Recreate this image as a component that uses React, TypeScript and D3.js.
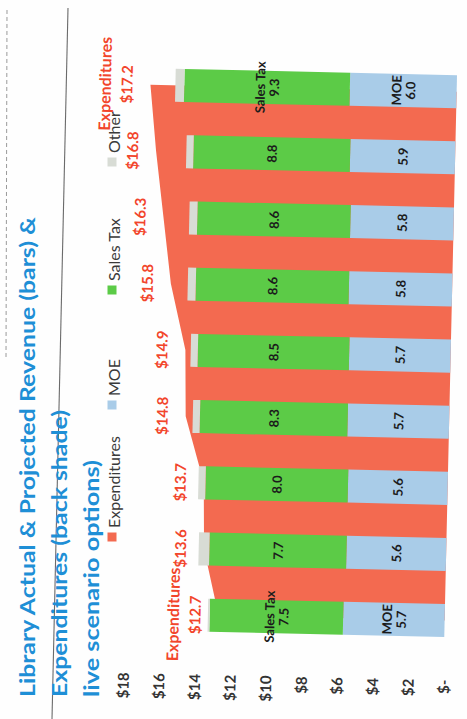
import React from "react";
import * as d3 from "d3";

const categories = ["Actual FY13", "Actual FY14", "Actual FY15", "Budget FY16", "Proj FY17", "Proj FY18", "Proj FY19", "Proj FY20", "Proj FY21"];
const moe = [5.7, 5.6, 5.6, 5.7, 5.7, 5.8, 5.8, 5.9, 6.0];
const salesTax = [7.5, 7.7, 8.0, 8.3, 8.5, 8.6, 8.6, 8.8, 9.3];
const other = [0.1, 0.6, 0.4, 0.4, 0.4, 0.45, 0.45, 0.4, 0.5];
const expenditures = [12.7, 13.6, 13.7, 14.8, 14.9, 15.8, 16.3, 16.8, 17.2];
const valueTicks = [0, 2, 4, 6, 8, 10, 12, 14, 16, 18];
const titleLines = [
  "Library Actual & Projected Revenue (bars) &",
  "Expenditures (back shade)",
  "live scenario options)",
];
const legendItems = [
  { key: "Expenditures", color: "#F36A50" },
  { key: "MOE", color: "#A9CCE8" },
  { key: "Sales Tax", color: "#5CCB47" },
  { key: "Other", color: "#D8DCD5" },
];

const W = 467;
const H = 719;
const FONT = "Lato, 'Open Sans', sans-serif";
const C_EXP = "#F36A50";
const C_MOE = "#A9CCE8";
const C_SALES = "#5CCB47";
const C_OTHER = "#D8DCD5";
const C_LABEL_RED = "#F2452B";
const C_TITLE = "#1E8FD6";

function RText(props: {
  x: number;
  y: number;
  children: React.ReactNode;
  size: number;
  fill: string;
  weight?: string | number;
  anchor?: string;
  textLength?: number;
}) {
  const { x, y, children, size, fill, weight = "normal", anchor = "middle", textLength } = props;
  return (
    <text
      transform={`translate(${x},${y}) rotate(-90)`}
      textAnchor={anchor}
      dominantBaseline="central"
      fontFamily={FONT}
      fontSize={size}
      fontWeight={weight}
      fill={fill}
      textLength={textLength}
      lengthAdjust={textLength ? "spacingAndGlyphs" : undefined}
    >
      {children}
    </text>
  );
}

export default function App() {
  const x = d3.scaleLinear().domain([0, 18]).range([450.5, 130]);
  const y = d3.scalePoint<string>().domain(categories).range([617, 88]);
  const step = y.step();
  const barT = step * 0.5;

  const area = d3
    .area<number>()
    .y((_, i) => y(categories[i]) as number)
    .x0(x(0))
    .x1((d) => x(d))
    .curve(d3.curveLinear);

  const n = categories.length;

  return (
    <svg
      width={W}
      height={H}
      style={{ position: "absolute", left: 0, top: 0, background: "#fff" }}
    >
      <rect x={0} y={0} width={W} height={H} fill="#fefefe" />
      {/* page artifacts */}
      <line x1={68} y1={8} x2={52} y2={719} stroke="#6b6b6b" strokeWidth={1.1} />
      <line x1={7} y1={10} x2={6} y2={360} stroke="#9a9a9a" strokeWidth={1} strokeDasharray="4 3" />

      {/* title */}
      {titleLines.map((t, i) => (
        <RText
          key={t}
          x={26 + i * 32}
          y={697}
          size={21}
          weight="bold"
          fill={C_TITLE}
          anchor="start"
          textLength={[480, 287, 237][i]}
        >
          {t}
        </RText>
      ))}

      {/* legend */}
      {legendItems.map((it, i) => {
        const cy = [537, 405, 290, 162][i];
        return (
          <g key={it.key}>
            <rect x={107.5} y={cy - 4.5} width={9} height={9} fill={it.color} />
            <RText x={113} y={cy - 9} size={16} fill="#3a3a3a" anchor="start">
              {it.key}
            </RText>
          </g>
        );
      })}

      <g transform="rotate(1.3, 290, 360)">
        {/* expenditure area */}
        <path d={area(expenditures) || ""} fill={C_EXP} />

        {/* stacked bars */}
        {categories.map((c, i) => {
          const cy = y(c) as number;
          const m = moe[i];
          const s = salesTax[i];
          const o = other[i];
          return (
            <g key={c}>
              <rect x={x(m)} y={cy - barT / 2} width={x(0) - x(m)} height={barT} fill={C_MOE} />
              <rect x={x(m + s)} y={cy - barT / 2} width={x(m) - x(m + s)} height={barT} fill={C_SALES} />
              <rect x={x(m + s + o)} y={cy - barT / 2} width={x(m + s) - x(m + s + o)} height={barT} fill={C_OTHER} />
            </g>
          );
        })}

        {/* bar labels */}
        {categories.map((c, i) => {
          const cy = y(c) as number;
          const m = moe[i];
          const s = salesTax[i];
          const edge = i === 0 || i === n - 1;
          const mc = x(m / 2);
          const sc = x(m + s / 2);
          return (
            <g key={"lbl" + c}>
              {edge ? (
                <>
                  <RText x={mc - 7} y={cy} size={13} weight="bold" fill="#1b1b1b">MOE</RText>
                  <RText x={mc + 7} y={cy} size={13} weight="bold" fill="#1b1b1b">{m.toFixed(1)}</RText>
                  <RText x={sc - 7} y={cy} size={13} weight="bold" fill="#1b1b1b">Sales Tax</RText>
                  <RText x={sc + 7} y={cy} size={13} weight="bold" fill="#1b1b1b">{s.toFixed(1)}</RText>
                </>
              ) : (
                <>
                  <RText x={mc} y={cy} size={13} weight="bold" fill="#1b1b1b">{m.toFixed(1)}</RText>
                  <RText x={sc} y={cy} size={13} weight="bold" fill="#1b1b1b">{s.toFixed(1)}</RText>
                </>
              )}
            </g>
          );
        })}

        {/* expenditure labels */}
        {categories.map((c, i) => {
          const cy = y(c) as number;
          const v = expenditures[i];
          const lx = x(v) - 24;
          const edge = i === 0 || i === n - 1;
          return (
            <g key={"exp" + c}>
              {edge && (
                <RText x={lx - 22} y={cy} size={16} weight="bold" fill={C_LABEL_RED}>
                  Expenditures
                </RText>
              )}
              <RText x={lx} y={cy} size={15} weight="bold" fill={C_LABEL_RED}>
                {`$${v.toFixed(1)}`}
              </RText>
            </g>
          );
        })}

        {/* value axis labels */}
        {valueTicks.map((v) => (
          <RText key={v} x={x(v)} y={676} size={15} weight="bold" fill="#333" anchor="end">
            {v === 0 ? "$-" : `$${v}`}
          </RText>
        ))}
      </g>
    </svg>
  );
}
